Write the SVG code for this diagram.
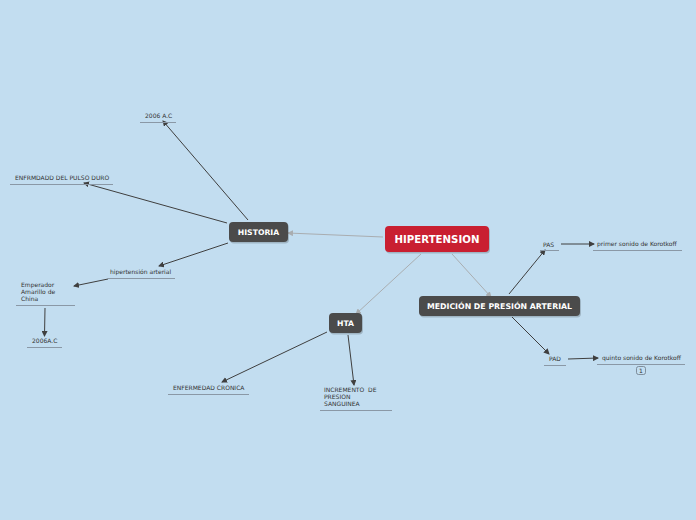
<svg xmlns="http://www.w3.org/2000/svg" width="696" height="520" viewBox="0 0 696 520">
<style>
.bg{fill:#c2ddf0}
.dark{fill:#4b4b4b}
.main{fill:#c91f31}
.nt{font-family:"DejaVu Sans",sans-serif;font-weight:bold;fill:#fff;text-anchor:middle}
.lt{font-family:"DejaVu Sans",sans-serif;font-size:6px;fill:#333}
.ul{stroke:#8a98a6;stroke-width:1}
.c1{stroke:#a9adb0;stroke-width:1;fill:none;marker-end:url(#ag)}
.c2{stroke:#3f3f3f;stroke-width:1;fill:none;marker-end:url(#ad)}
.sh{fill:#000;opacity:0.18}
</style>
<defs>
<marker id="ag" markerWidth="6" markerHeight="6" refX="5" refY="3" orient="auto" markerUnits="userSpaceOnUse"><path d="M0,0 L6,3 L0,6 Z" fill="#a9adb0"/></marker>
<marker id="ad" markerWidth="6" markerHeight="6" refX="5" refY="3" orient="auto" markerUnits="userSpaceOnUse"><path d="M0,0 L6,3 L0,6 Z" fill="#3f3f3f"/></marker>
</defs>
<rect class="bg" x="0" y="0" width="696" height="520"/>
<g id="connectors">
<line class="c1" x1="383" y1="237" x2="288" y2="233"/>
<line class="c1" x1="421" y1="254" x2="356" y2="314"/>
<line class="c1" x1="452" y1="254" x2="491" y2="297"/>
<line class="c2" x1="248" y1="220" x2="163" y2="121"/>
<line class="c2" x1="227" y1="223" x2="84" y2="183"/>
<line class="c2" x1="228" y1="243" x2="159" y2="266"/>
<line class="c2" x1="108" y1="279" x2="74" y2="286"/>
<line class="c2" x1="45" y1="308" x2="44.5" y2="336"/>
<line class="c2" x1="327" y1="332" x2="222" y2="382"/>
<line class="c2" x1="348" y1="335" x2="354" y2="385"/>
<line class="c2" x1="509" y1="294" x2="545" y2="250"/>
<line class="c2" x1="561" y1="244" x2="594" y2="244"/>
<line class="c2" x1="512" y1="317" x2="549" y2="354"/>
<line class="c2" x1="568" y1="359" x2="598" y2="358"/>
</g>
<g id="hipertension">
<rect class="sh" x="386" y="227.5" width="104" height="26" rx="4"/>
<rect class="main" x="385" y="226" width="104" height="26" rx="4"/>
<text class="nt" x="437" y="243" font-size="10.2">HIPERTENSION</text>
</g>
<g id="historia">
<rect class="sh" x="230" y="223.5" width="59" height="20" rx="4"/>
<rect class="dark" x="229" y="222" width="59" height="20" rx="4"/>
<text class="nt" x="258.5" y="235" font-size="7.7">HISTORIA</text>
</g>
<g id="hta">
<rect class="sh" x="330" y="314.5" width="33" height="20" rx="4"/>
<rect class="dark" x="329" y="313" width="33" height="20" rx="4"/>
<text class="nt" x="345.5" y="326" font-size="7.7">HTA</text>
</g>
<g id="medicion">
<rect class="sh" x="420" y="297.5" width="161" height="20" rx="4"/>
<rect class="dark" x="419" y="296" width="161" height="20" rx="4"/>
<text class="nt" x="499.5" y="309" font-size="7.8">MEDICIÓN DE PRESIÓN ARTERIAL</text>
</g>
<g id="a2006ac">
<text class="lt" x="145" y="118">2006 A.C</text>
<line class="ul" x1="140" y1="122.5" x2="176" y2="122.5"/>
</g>
<g id="enfrmdadd">
<text class="lt" x="15" y="180">ENFRMDADD DEL PULSO DURO</text>
<line class="ul" x1="10" y1="184.5" x2="113" y2="184.5"/>
</g>
<g id="hipertension-arterial">
<text class="lt" x="110" y="274">hipertensión arterial</text>
<line class="ul" x1="108" y1="278.5" x2="175" y2="278.5"/>
</g>
<g id="emperador">
<text class="lt" x="21" y="287">Emperador</text>
<text class="lt" x="21" y="294">Amarillo de</text>
<text class="lt" x="21" y="301">China</text>
<line class="ul" x1="16" y1="305.5" x2="75" y2="305.5"/>
</g>
<g id="b2006ac">
<text class="lt" x="32" y="343">2006A.C</text>
<line class="ul" x1="27" y1="347.5" x2="62" y2="347.5"/>
</g>
<g id="enfermedad-cronica">
<text class="lt" x="173" y="390">ENFERMEDAD CRONICA</text>
<line class="ul" x1="168" y1="394.5" x2="249" y2="394.5"/>
</g>
<g id="incremento">
<text class="lt" x="324" y="392" xml:space="preserve">INCREMENTO  DE</text>
<text class="lt" x="324" y="399">PRESION</text>
<text class="lt" x="324" y="406">SANGUINEA</text>
<line class="ul" x1="320" y1="410.5" x2="392" y2="410.5"/>
</g>
<g id="pas">
<text class="lt" x="543" y="247">PAS</text>
<line class="ul" x1="540" y1="250.5" x2="559" y2="250.5"/>
</g>
<g id="primer">
<text class="lt" x="597" y="246">primer sonido de Korotkoff</text>
<line class="ul" x1="593" y1="250.5" x2="682" y2="250.5"/>
</g>
<g id="pad">
<text class="lt" x="549" y="361">PAD</text>
<line class="ul" x1="544" y1="365.5" x2="566" y2="365.5"/>
</g>
<g id="quinto">
<text class="lt" x="602" y="360">quinto sonido de Korotkoff</text>
<line class="ul" x1="597" y1="364.5" x2="685" y2="364.5"/>
<rect x="636.5" y="366.5" width="9" height="8" rx="2" fill="none" stroke="#6d7a86" stroke-width="0.8"/>
<text class="lt" x="641" y="372.5" text-anchor="middle" font-size="5">1</text>
</g>
</svg>
